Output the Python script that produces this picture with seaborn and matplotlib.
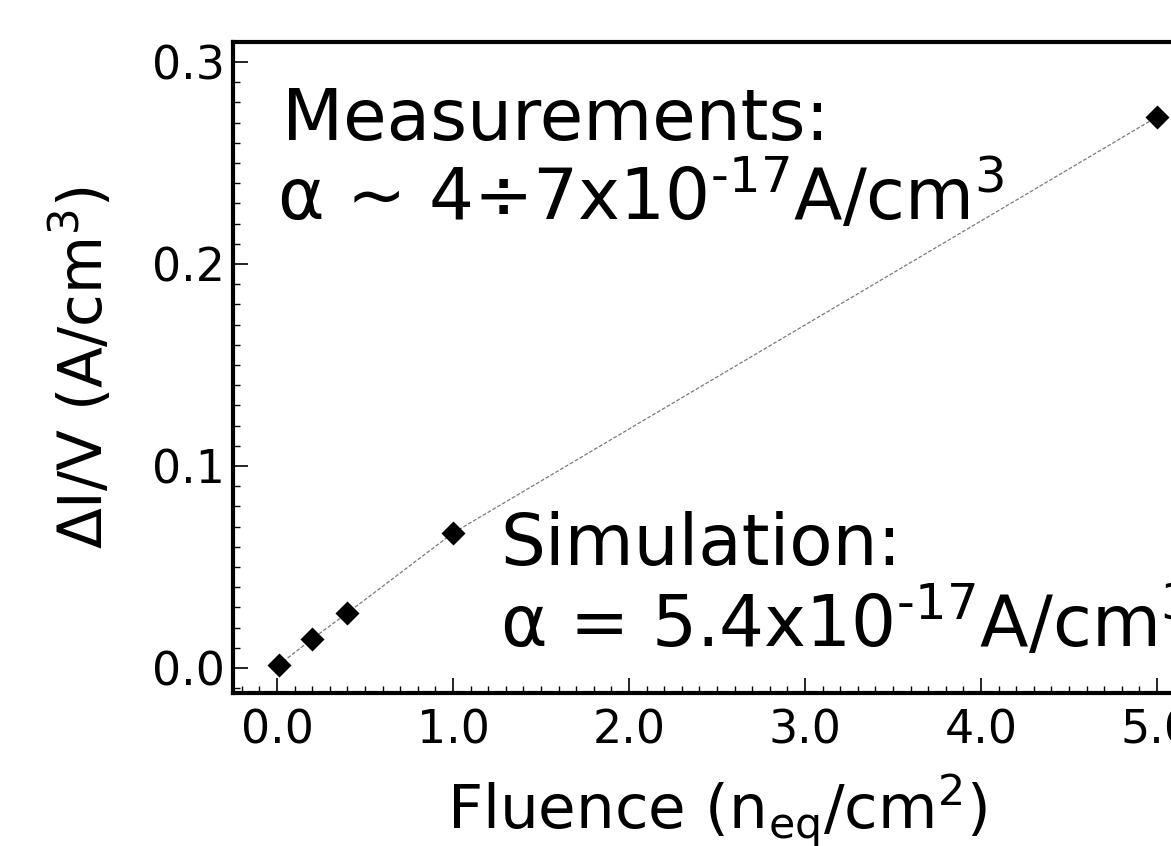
import matplotlib
matplotlib.use("Agg")
import matplotlib.pyplot as plt
from matplotlib.ticker import MultipleLocator
import seaborn as sns
import pandas as pd

# fluence (x 1e15 n_eq/cm^2) and leakage current per volume
fluence = [0.01, 0.2, 0.4, 1.0, 5.0]
current_per_volume = [0.0015, 0.0144, 0.0272, 0.0668, 0.2728]
x_ticks = [0.0, 1.0, 2.0, 3.0, 4.0, 5.0]
y_ticks = [0.0, 0.1, 0.2, 0.3]

df = pd.DataFrame({"fluence": fluence, "dIV": current_per_volume})

sns.set_theme(style="white")
plt.rcParams["font.family"] = ["DejaVu Sans"]
plt.rcParams["mathtext.fontset"] = "dejavusans"
plt.rcParams["text.color"] = "black"
plt.rcParams["axes.labelcolor"] = "black"

fig = plt.figure(figsize=(11.71, 8.46), dpi=100)
W, H = 1171, 846
# axes extends past the right edge of the canvas, as in the reference crop
ax = fig.add_axes([233 / W, (H - 693) / H, 968 / W, 651 / H])

sns.lineplot(data=df, x="fluence", y="dIV", ax=ax, color="#7a7a7a",
             linewidth=0.9, linestyle=(0, (3, 1.5)), sort=False)
sns.scatterplot(data=df, x="fluence", y="dIV", ax=ax, marker="D",
                color="black", s=150, linewidth=0, zorder=3)

ax.set_xlim(-0.25, 5.25)
ax.set_ylim(-0.0124, 0.3099)
ax.set_xticks(x_ticks)
ax.set_yticks(y_ticks)
ax.set_xticklabels([f"{v:.1f}" for v in x_ticks])
ax.set_yticklabels([f"{v:.1f}" for v in y_ticks])
ax.xaxis.set_minor_locator(MultipleLocator(0.1))
ax.yaxis.set_minor_locator(MultipleLocator(0.01))
ax.tick_params(which="both", direction="in", colors="black",
               bottom=True, left=True, top=False, right=False)
ax.tick_params(which="major", length=11, width=1.2, labelsize=33)
ax.tick_params(which="minor", length=5, width=1.0)
ax.tick_params(axis="x", which="major", pad=11)
ax.tick_params(axis="y", which="major", pad=6)
for s in ax.spines.values():
    s.set_linewidth(3)
    s.set_color("black")

ax.set_xlabel(r"Fluence (n$_\mathregular{eq}$/cm$^\mathregular{2}$)",
              fontsize=44, labelpad=14)
ax.set_ylabel(r"ΔI/V (A/cm$^\mathregular{3}$)", fontsize=43, labelpad=26)

sup = "$^\\mathregular{\u201017}$"
cube = "$^\\mathregular{3}$"
fig.text(282 / W, 1 - 140 / H, "Measurements:", fontsize=51, va="baseline")
fig.text(277 / W, 1 - 220 / H, "α ~ 4÷7x10" + sup + "A/cm" + cube,
         fontsize=51, va="baseline")
fig.text(500 / W, 1 - 565 / H, "Simulation:", fontsize=51, va="baseline")
fig.text(500 / W, 1 - 647 / H, "α = 5.4x10" + sup + "A/cm" + cube,
         fontsize=51, va="baseline")

fig.savefig("out.png", dpi=100)
